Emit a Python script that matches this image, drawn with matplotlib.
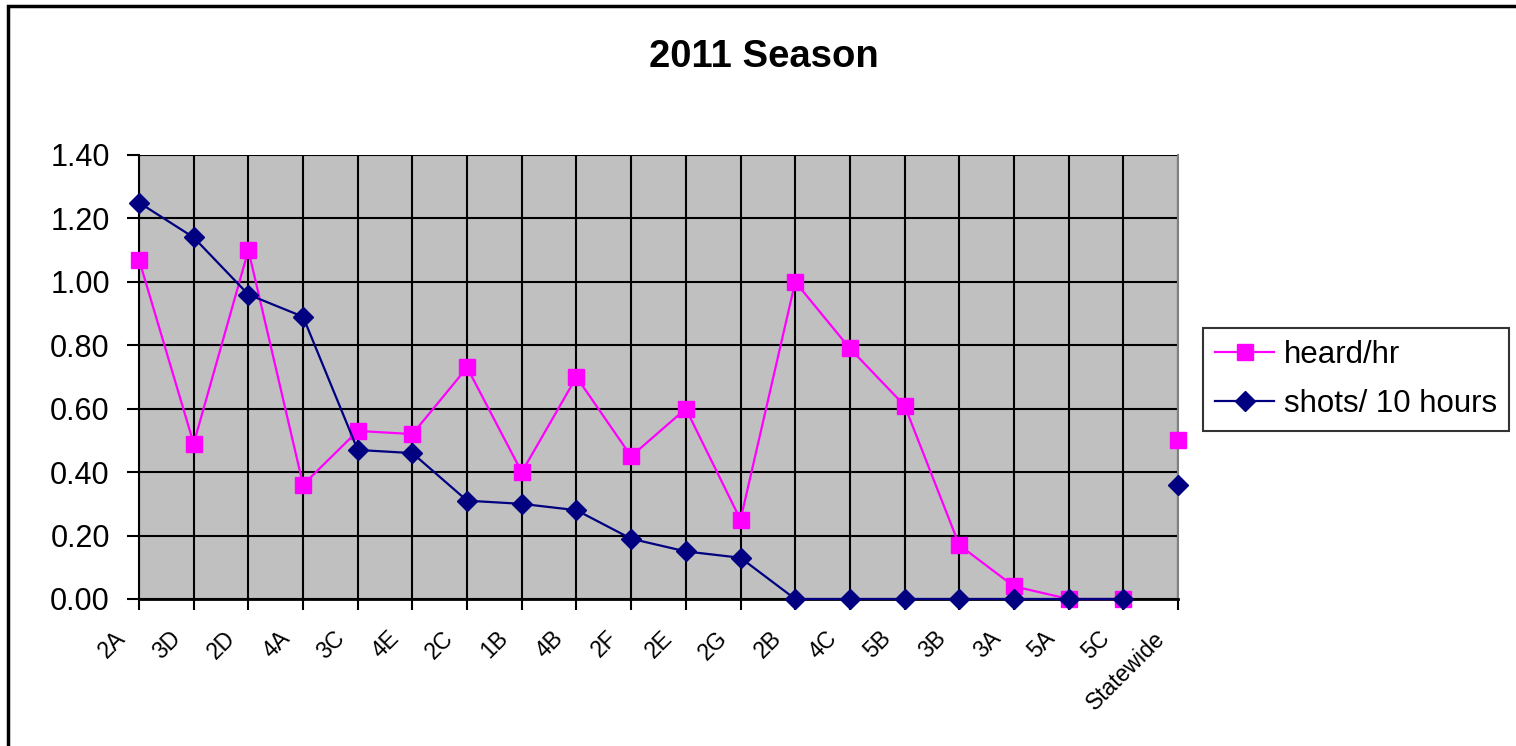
import matplotlib
matplotlib.use("Agg")
import matplotlib.pyplot as plt
from matplotlib.patches import Rectangle

plt.rcParams['font.family'] = ['Liberation Sans', 'DejaVu Sans']

# Management units, ordered by shots per 10 hours, then the statewide figure
units = ['2A', '3D', '2D', '4A', '3C', '4E', '2C', '1B', '4B', '2F',
         '2E', '2G', '2B', '4C', '5B', '3B', '3A', '5A', '5C']
heard_per_hr = [1.07, 0.49, 1.10, 0.36, 0.53, 0.52, 0.73, 0.40, 0.70, 0.45,
                0.60, 0.25, 1.00, 0.79, 0.61, 0.17, 0.04, 0.00, 0.00]
shots_per_10h = [1.25, 1.14, 0.96, 0.89, 0.47, 0.46, 0.31, 0.30, 0.28, 0.19,
                 0.15, 0.13, 0.00, 0.00, 0.00, 0.00, 0.00, 0.00, 0.00]
statewide_label = 'Statewide'
statewide_heard = 0.50
statewide_shots = 0.36
y_ticks = [0.0, 0.2, 0.4, 0.6, 0.8, 1.0, 1.2, 1.4]

PINK = '#FF00FF'
NAVY = '#000080'

fig = plt.figure(figsize=(15.16, 7.46), dpi=100)
ax = fig.add_axes([139 / 1516, 1 - 599 / 746, (1178 - 139) / 1516, (599 - 155) / 746])
ax.set_facecolor('#C0C0C0')

x = list(range(len(units)))
x_state = len(units)

ax.plot(x, heard_per_hr, color=PINK, lw=1.6, marker='s', ms=11.5,
        mec=PINK, mfc=PINK, clip_on=False, zorder=4, label='heard/hr')
ax.plot(x, shots_per_10h, color=NAVY, lw=1.6, marker='D', ms=10.5,
        mec=NAVY, mfc=NAVY, clip_on=False, zorder=5, label='shots/ 10 hours')
ax.plot([x_state], [statewide_heard], ls='none', marker='s', ms=11.5,
        color=PINK, clip_on=False, zorder=4)
ax.plot([x_state], [statewide_shots], ls='none', marker='D', ms=10.5,
        color=NAVY, clip_on=False, zorder=5)

ax.set_xlim(0, x_state)
ax.set_ylim(0, 1.4)
ax.set_yticks(y_ticks)
ax.set_yticklabels([f'{v:.2f}' for v in y_ticks], fontsize=22)
ax.set_xticks(x + [x_state])
ax.set_xticklabels([])

# slanted category labels, sitting a little left of their ticks
for pos, name in zip(x + [x_state], units + [statewide_label]):
    ax.annotate(name, xy=(pos, 0), xycoords=('data', 'axes fraction'),
                xytext=(-18, -20), textcoords='offset points',
                fontsize=16.5, rotation=45, ha='right', va='top',
                rotation_mode='anchor', annotation_clip=False)

ax.grid(True, color='black', lw=1.5)
ax.set_axisbelow(True)
ax.tick_params(axis='y', length=9, width=1.5, pad=12)
ax.tick_params(axis='x', length=8, width=1.5)

ax.spines['top'].set_visible(False)
ax.spines['right'].set_color('#808080')
ax.spines['right'].set_linewidth(1.5)
ax.spines['left'].set_linewidth(1.5)
ax.spines['bottom'].set_linewidth(2)

leg = ax.legend(loc='upper left', bbox_to_anchor=(1203 / 1516, 1 - 328 / 746),
                bbox_transform=fig.transFigure, fontsize=22.5, frameon=True,
                fancybox=False, edgecolor='black', handlelength=1.9,
                borderpad=0.38, labelspacing=0.6, handletextpad=0.3,
                borderaxespad=0)
leg.get_frame().set_linewidth(1.5)

fig.text(0.504, 1 - 57 / 746, '2011 Season', ha='center', va='center',
         fontsize=27.5, fontweight='bold')

# chart area border
fig.patches.append(Rectangle((8 / 1516, -0.05), 1.1, 1 - 6 / 746 + 0.05,
                             transform=fig.transFigure, fill=False,
                             edgecolor='black', lw=2.5, zorder=0))

fig.savefig('out.png', dpi=100)
